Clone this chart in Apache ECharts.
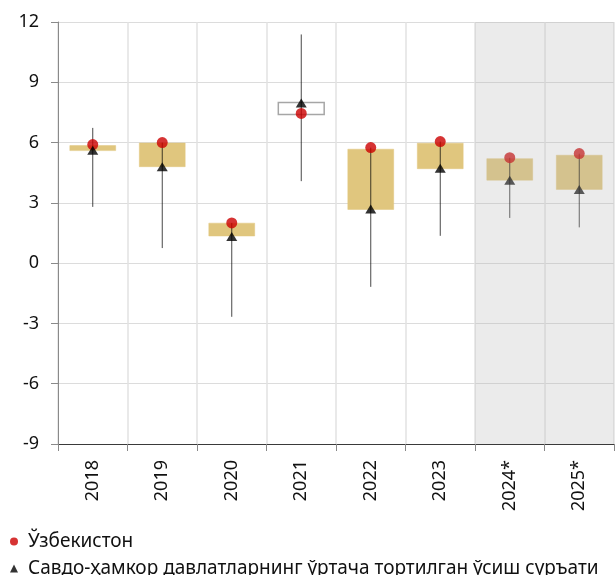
<!DOCTYPE html>
<html>
<head>
<meta charset="utf-8">
<script src="https://cdn.jsdelivr.net/npm/echarts@6/dist/echarts.min.js"></script>
<style>html,body{margin:0;padding:0;background:#fff}#chart{width:615px;height:575px}</style>
</head>
<body>
<div id="chart"></div>
<script>
// йиллар
const categories = ['2018', '2019', '2020', '2021', '2022', '2023', '2024*', '2025*']
const forecastYears = ['2024*', '2025*']
// Ўзбекистон ўсиш суръати (%)
const uzbekistan = [5.9, 6.0, 2.0, 7.45, 5.75, 6.05, 5.25, 5.45]
// савдо-ҳамкорлар ўртача тортилган (%)
const partners = [5.62, 4.8, 1.32, 7.97, 2.69, 4.72, 4.13, 3.67]
// қути чегаралари
const boxLow = [5.6, 4.8, 1.35, 7.4, 2.67, 4.7, 4.13, 3.67]
const boxHigh = [5.85, 5.98, 1.99, 7.99, 5.67, 5.97, 5.2, 5.37]
// мин-макс чизиқлар
const rangeLow = [2.8, 0.75, -2.67, 4.08, -1.18, 1.36, 2.25, 1.78]
const rangeHigh = [6.73, 6.0, 2.0, 11.38, 5.75, 6.05, 5.25, 5.45]
const yTicks = { min: -9, max: 12, step: 3 }

const FONT = 'Noto Sans'
const nameUz = 'Ўзбекистон'
const namePt = 'Савдо-ҳамкор давлатларнинг ўртача тортилган ўсиш суръати'

const chart = echarts.init(document.getElementById('chart'))

const boxData = categories.map((c, i) => [i, rangeLow[i], rangeHigh[i], boxLow[i], boxHigh[i]])

function renderBox(params, api) {
  const x = api.value(0)
  const lo = api.coord([x, api.value(1)])
  const hi = api.coord([x, api.value(2)])
  const b1 = api.coord([x, api.value(3)])
  const b2 = api.coord([x, api.value(4)])
  const w = api.size([1, 0])[0] * 0.66
  const hollow = categories[x] === '2021'
  return {
    type: 'group',
    children: [
      { type: 'rect', shape: { x: b1[0] - w / 2, y: b2[1], width: w, height: b1[1] - b2[1] },
        style: hollow ? { fill: '#fff', stroke: '#a6a6a6', lineWidth: 1.5 } : { fill: '#e0c67e', stroke: '#e0c67e', lineWidth: 0.5 } },
      { type: 'line', shape: { x1: lo[0], y1: lo[1], x2: hi[0], y2: hi[1] },
        style: { stroke: 'rgba(0,0,0,0.72)', lineWidth: 1 } }
    ]
  }
}

function renderShade(params, api) {
  const cs = params.coordSys
  const c = api.coord([api.value(0), 0])
  const w = api.size([1, 0])[0]
  return { type: 'rect', shape: { x: c[0] - w / 2, y: cs.y, width: w, height: cs.height },
    style: { fill: 'rgba(183,183,183,0.28)' } }
}

const legendBase = { left: 5, itemWidth: 8, itemHeight: 8,
  textStyle: { fontFamily: FONT, fontSize: 19, color: '#111', padding: [0, 0, 0, 5] } }

const option = {
  animation: false,
  textStyle: { fontFamily: FONT },
  grid: { left: 58, right: 1, top: 22, bottom: 131, containLabel: false },
  legend: [
    { ...legendBase, top: 527, data: [{ name: nameUz, icon: 'circle' }] },
    { ...legendBase, top: 554, data: [{ name: namePt, icon: 'triangle' }] }
  ],
  xAxis: [
    { type: 'category', data: categories, position: 'bottom',
      axisLine: { show: false }, axisTick: { show: false },
      axisLabel: { rotate: 90, margin: 16, fontSize: 18, color: '#111', fontFamily: FONT, interval: 0 },
      splitLine: { show: true, interval: 0, lineStyle: { color: '#e2e2e2', width: 1.5 } } },
    { type: 'category', data: categories, position: 'bottom',
      axisLine: { onZero: true, lineStyle: { color: '#3a3a3a', width: 1 } },
      axisTick: { show: true, length: 7, interval: 0, lineStyle: { color: '#888' } },
      axisLabel: { show: false }, splitLine: { show: false } }
  ],
  yAxis: {
    type: 'value', min: yTicks.min, max: yTicks.max, interval: yTicks.step,
    axisLine: { show: true, onZero: false, lineStyle: { color: '#8a8a8a' } },
    axisTick: { show: true, length: 7, lineStyle: { color: '#8a8a8a' } },
    axisLabel: { margin: 19, fontSize: 18, color: '#111', fontFamily: FONT },
    splitLine: { lineStyle: { color: '#dcdcdc', width: 1 } }
  },
  series: [
    { type: 'custom', name: 'range', renderItem: renderBox, data: boxData,
      encode: { x: 0, y: [1, 2, 3, 4] }, z: 2 },
    { type: 'scatter', name: nameUz, data: uzbekistan, symbol: 'circle', symbolSize: 11,
      itemStyle: { color: '#cc0000' }, z: 3 },
    { type: 'scatter', name: namePt, data: partners, symbol: 'triangle', symbolSize: [11, 9],
      itemStyle: { color: '#000' }, z: 4 },
    { type: 'custom', name: 'shade', renderItem: renderShade,
      data: forecastYears.map(y => [categories.indexOf(y)]), encode: { x: 0 }, z: 5, silent: true }
  ]
}
chart.setOption(option)
</script>
</body>
</html>
